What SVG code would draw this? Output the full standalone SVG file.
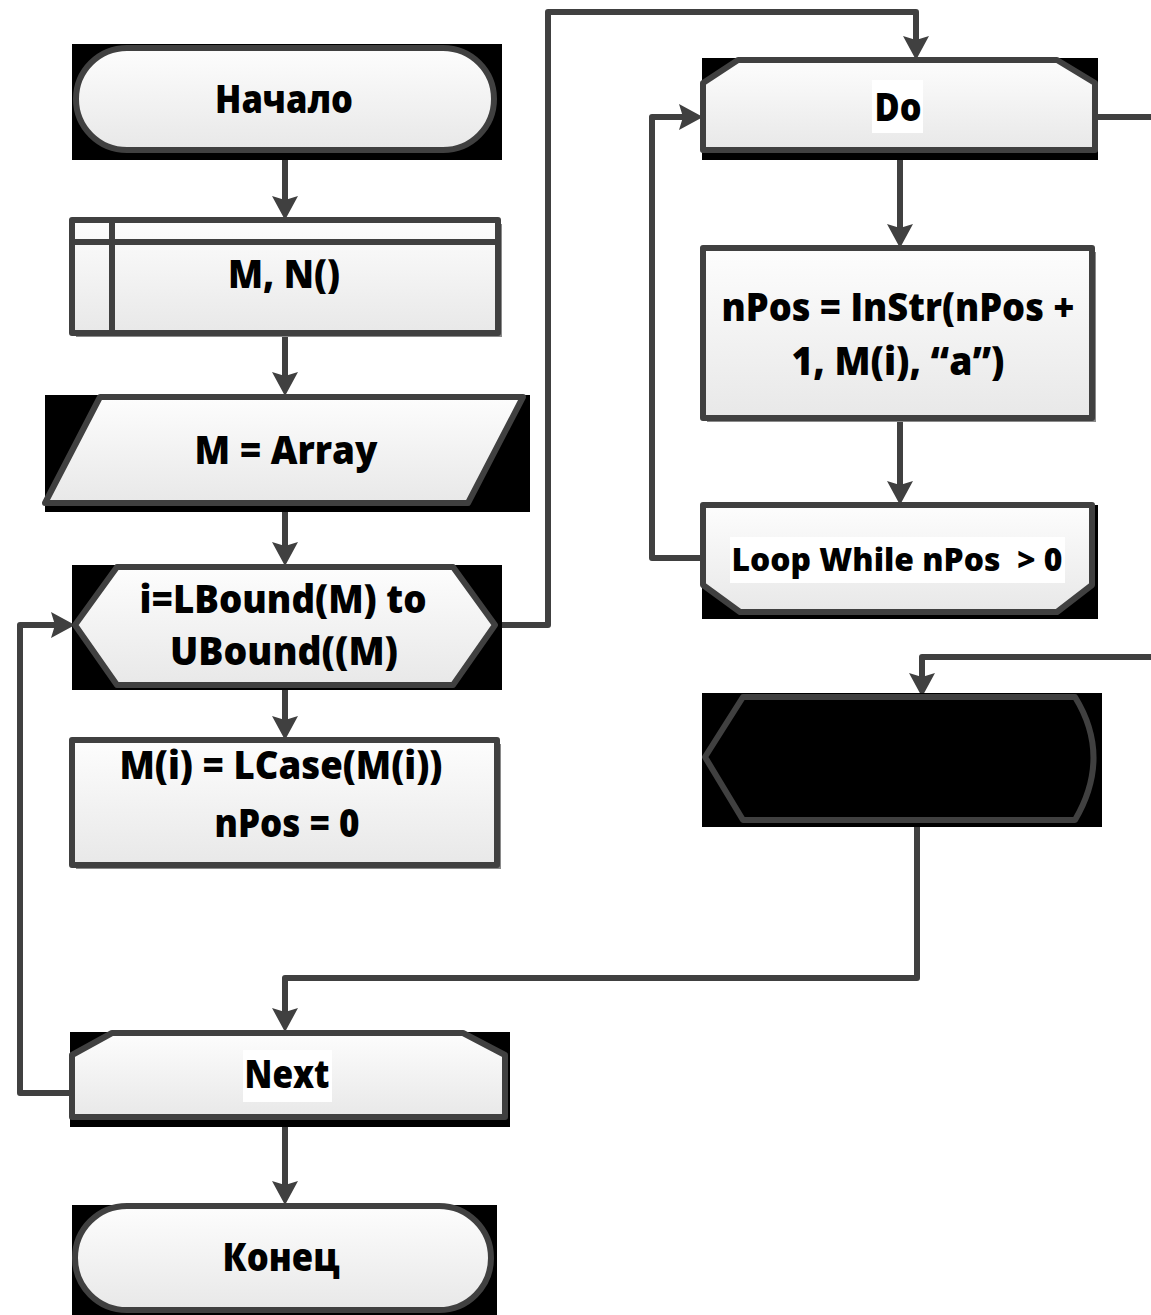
<svg xmlns="http://www.w3.org/2000/svg" width="1151" height="1315" viewBox="0 0 1151 1315">
<style>
.shape{fill:url(#g);stroke:#404040;stroke-width:6;stroke-linejoin:round}
.bk{fill:#000}
.sh{fill:#8a8a8a}
.t{font-family:"Open Sans","Noto Sans","DejaVu Sans",sans-serif;font-weight:800;font-size:39px;fill:#000;text-anchor:middle}
.ts{font-size:32px}
.hl{fill:#fff}
.c{fill:none;stroke:#404040;stroke-width:6;stroke-linejoin:round;marker-end:url(#ah)}
.cn{fill:none;stroke:#404040;stroke-width:6;stroke-linejoin:round}
</style>
<defs>
<linearGradient id="g" x1="0" y1="0" x2="0" y2="1">
<stop offset="0" stop-color="#fdfdfd"/>
<stop offset="1" stop-color="#e8e8e8"/>
</linearGradient>
<marker id="ah" markerUnits="userSpaceOnUse" markerWidth="24" markerHeight="26" viewBox="0 0 24 26" refX="4" refY="13" orient="auto">
<path d="M0,0 L24,13 L0,26 L4,13 Z" fill="#404040"/>
</marker>
</defs>
<rect width="1151" height="1315" fill="#fff"/>

<g id="connectors">
<path class="c" d="M285,150 V200"/>
<path class="c" d="M285,333 V376"/>
<path class="c" d="M285,503 V546"/>
<path class="c" d="M285,688 V720"/>
<path class="c" d="M495,625 H548 V12 H916 V40"/>
<path class="c" d="M900,150 V228"/>
<path class="c" d="M900,418 V485"/>
<path class="c" d="M703,558 H652 V117 H683"/>
<path class="cn" d="M1095,117 H1151"/>
<path class="c" d="M1151,657 H922 V677"/>
<path class="c" d="M917,820 V978 H285 V1012"/>
<path class="c" d="M72,1093 H20 V625 H55"/>
<path class="c" d="M285,1117 V1185"/>
</g>

<g id="start">
<rect class="bk" x="72" y="44" width="430" height="116"/>
<rect class="shape" x="76" y="48" width="418" height="102" rx="51"/>
<text class="t" x="284" y="113" textLength="138" lengthAdjust="spacingAndGlyphs">Начало</text>
</g>

<g id="decl">
<rect class="sh" x="76" y="224" width="426" height="113"/>
<rect class="shape" x="72" y="220" width="426" height="113"/>
<path class="cn" d="M72,242 H498 M112,220 V333"/>
<text class="t" x="284" y="288" textLength="112" lengthAdjust="spacingAndGlyphs">M, N()</text>
</g>

<g id="input">
<rect class="bk" x="45" y="395" width="485" height="117"/>
<path class="shape" d="M100,397 L523,397 L468,503 L45,503 Z"/>
<text class="t" x="286" y="464" textLength="183" lengthAdjust="spacingAndGlyphs">M = Array</text>
</g>

<g id="forloop">
<rect class="bk" x="72" y="565" width="430" height="125"/>
<path class="shape" d="M75,625 L117,567 L453,567 L495,625 L453,685 L117,685 Z"/>
<text class="t" x="283" y="613" textLength="287" lengthAdjust="spacingAndGlyphs">i=LBound(M) to</text>
<text class="t" x="284" y="665" textLength="228" lengthAdjust="spacingAndGlyphs">UBound((M)</text>
</g>

<g id="lcase">
<rect class="sh" x="76" y="744" width="425" height="125"/>
<rect class="shape" x="72" y="740" width="425" height="125"/>
<text class="t" x="281" y="779" textLength="323" lengthAdjust="spacingAndGlyphs">M(i) = LCase(M(i))</text>
<text class="t" x="287" y="837" textLength="145" lengthAdjust="spacingAndGlyphs">nPos = 0</text>
</g>

<g id="do">
<rect class="bk" x="702" y="58" width="396" height="102"/>
<path class="shape" d="M703,83 L738,60 L1057,60 L1095,83 L1095,150 L703,150 Z"/>
<rect class="hl" x="872" y="80" width="51" height="53"/>
<text class="t" x="898" y="121" textLength="47" lengthAdjust="spacingAndGlyphs">Do</text>
</g>

<g id="instr">
<rect class="sh" x="707" y="252" width="389" height="170"/>
<rect class="shape" x="703" y="248" width="389" height="170"/>
<text class="t" x="898" y="321" textLength="353" lengthAdjust="spacingAndGlyphs">nPos = InStr(nPos +</text>
<text class="t" x="898" y="375" textLength="213" lengthAdjust="spacingAndGlyphs">1, M(i), “a”)</text>
</g>

<g id="loopwhile">
<rect class="bk" x="702" y="505" width="396" height="114"/>
<path class="shape" d="M703,505 L1092,505 L1092,585 L1057,612 L740,612 L703,585 Z"/>
<rect class="hl" x="730" y="537" width="335" height="46"/>
<text class="t ts" x="897" y="571" textLength="331" lengthAdjust="spacingAndGlyphs" xml:space="preserve">Loop While nPos  &gt; 0</text>
</g>

<g id="display">
<rect class="bk" x="702" y="693" width="400" height="134"/>
<path d="M705,757 L743,697 L1075,697 Q1112,757 1075,820 L743,820 Z" fill="#000" stroke="#404040" stroke-width="6" stroke-linejoin="round"/>
</g>

<g id="next">
<rect class="bk" x="70" y="1032" width="440" height="95"/>
<path class="shape" d="M72,1055 L112,1033 L463,1033 L505,1055 L505,1117 L72,1117 Z"/>
<rect class="hl" x="243" y="1050" width="89" height="52"/>
<text class="t" x="287" y="1088" textLength="85" lengthAdjust="spacingAndGlyphs">Next</text>
</g>

<g id="end">
<rect class="bk" x="72" y="1205" width="425" height="110"/>
<rect class="shape" x="75" y="1206" width="416" height="104" rx="52"/>
<text class="t" x="281" y="1271" textLength="117" lengthAdjust="spacingAndGlyphs">Конец</text>
</g>
</svg>
